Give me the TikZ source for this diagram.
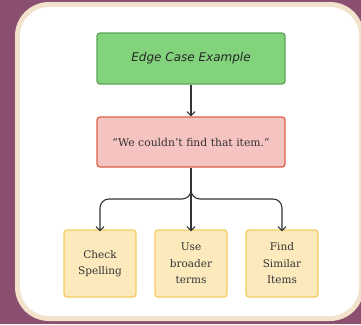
\documentclass[tikz,border=0pt]{standalone}
\usepackage{fontspec}
\setmainfont{DejaVu Serif}
\newfontfamily\handfont{DejaVu Sans}
\usetikzlibrary{arrows.meta}
\definecolor{bgpurple}{HTML}{8B4F6F}
\definecolor{cream}{HTML}{F3E3CD}
\definecolor{gfill}{HTML}{82D37C}
\definecolor{gline}{HTML}{5FA35A}
\definecolor{rfill}{HTML}{F6C4C0}
\definecolor{rline}{HTML}{DE6049}
\definecolor{yfill}{HTML}{FCEABD}
\definecolor{yline}{HTML}{F4CC62}
\definecolor{ink}{HTML}{333333}
\tikzset{
  box/.style={draw, line width=1.3pt, rounded corners=3pt, inner sep=0pt, align=center, text=ink},
  greenbox/.style={box, fill=gfill, draw=gline, minimum width=188pt, minimum height=51pt},
  redbox/.style={box, fill=rfill, draw=rline, minimum width=188pt, minimum height=50pt},
  ybox/.style={box, fill=yfill, draw=yline, minimum width=72pt, minimum height=67pt, font=\fontsize{10.5}{16.5}\selectfont},
  conn/.style={draw=ink, line width=1.1pt, -{Straight Barb[length=4pt,width=8pt]}},
}
\begin{document}
\begin{tikzpicture}[x=1pt,y=-1pt]
\useasboundingbox (0,0) rectangle (361,324);
\fill[bgpurple] (0,0) rectangle (361,324);
\fill[cream, rounded corners=34pt] (15,2) rectangle (364,321);
\fill[white, rounded corners=29pt] (20,7) rectangle (359,316);
\node[greenbox, font=\handfont\itshape\fontsize{12}{14}\selectfont, text=black!85] (g) at (191,58.5) {Edge Case Example};
\node[redbox, font=\fontsize{10.8}{13}\selectfont] (r) at (191,142) {“We couldn’t find that item.”};
\node[ybox] (y1) at (100,263.5) {Check\\Spelling};
\node[ybox] (y2) at (191,263.5) {Use\\broader\\terms};
\node[ybox] (y3) at (282,263.5) {Find\\Similar\\Items};
\coordinate (j) at (191,190);
\draw[conn] (g.south) -- (r.north);
\draw[conn] (r.south) -- ([yshift=-2pt]y2.north);
\draw[conn, rounded corners=9pt] (j) -- (191,199) -- (100,199) -- ([yshift=-2pt]y1.north);
\draw[conn, rounded corners=9pt] (j) -- (191,199) -- (282,199) -- ([yshift=-2pt]y3.north);
\end{tikzpicture}
\end{document}
